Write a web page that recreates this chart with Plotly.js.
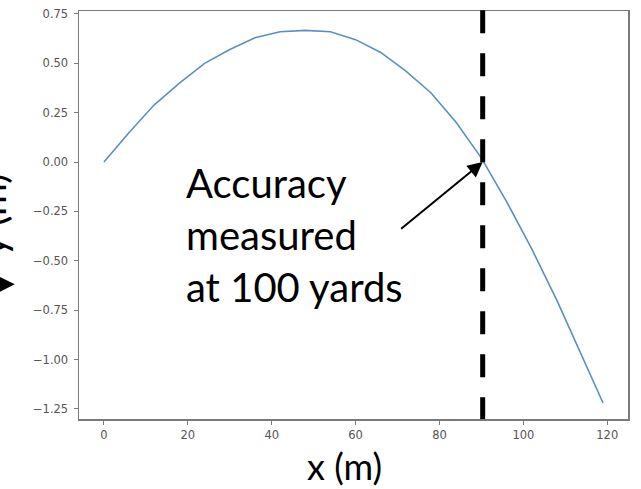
<!DOCTYPE html>
<html>
<head>
<meta charset="utf-8">
<script src="https://cdn.plot.ly/plotly-3.0.1.min.js"></script>
<style>html,body{margin:0;padding:0;background:#fff;}#chart{width:641px;height:489px;}</style>
</head>
<body>
<div id="chart"></div>
<script>
// Trajectory
const xDist = [0, 6, 12, 18, 24, 30, 36, 42, 48, 54, 60, 66, 72, 78, 84, 90, 96, 102, 108, 114, 119];
const yHeight = [0, 0.15, 0.29, 0.40, 0.50, 0.57, 0.63, 0.66, 0.667, 0.66, 0.62, 0.555, 0.46, 0.35, 0.20, 0.02, -0.20, -0.44, -0.70, -0.98, -1.22];
const measureX = [90.3];
const xTickVals = [0, 20, 40, 60, 80, 100, 120];
const yTickVals = [0.75, 0.5, 0.25, 0, -0.25, -0.5, -0.75, -1.0, -1.25];
const yTickText = ['0.75', '0.50', '0.25', '0.00', '\u22120.25', '\u22120.50', '\u22120.75', '\u22121.00', '\u22121.25'];
const noteText = 'Accuracy<br>measured<br>at 100 yards';
const xTitle = 'x (m)';
const yTitle = 'y (m)';

const trace = {
  x: xDist, y: yHeight, type: 'scatter', mode: 'lines',
  line: {color: '#5a90bf', width: 1.6}, hoverinfo: 'skip'
};

const axisCommon = {
  showgrid: false, zeroline: false, showline: true, mirror: true,
  linecolor: '#7a7a7a', linewidth: 1.5,
  ticks: 'outside', ticklen: 4, tickwidth: 1, tickcolor: '#7a7a7a',
  ticklabelstandoff: 3,
  tickfont: {family: 'DejaVu Sans', size: 11.5, color: '#555'}
};

const layout = {
  width: 641, height: 489,
  margin: {l: 79, r: 13, t: 11, b: 70},
  paper_bgcolor: '#fff', plot_bgcolor: '#fff',
  showlegend: false,
  xaxis: Object.assign({}, axisCommon, {
    range: [-5.95, 124.95], tickvals: xTickVals, ticktext: xTickVals.map(String),
    ticklabelstandoff: 1
  }),
  yaxis: Object.assign({}, axisCommon, {
    range: [-1.301, 0.765], tickvals: yTickVals, ticktext: yTickText
  }),
  shapes: [{
    type: 'line', xref: 'x', yref: 'paper', x0: measureX[0], x1: measureX[0], y0: 1.002, y1: 0,
    line: {color: '#000', width: 5, dash: '23px,20px'}, layer: 'above'
  }],
  annotations: [
    {xref: 'paper', yref: 'paper', x: 0.4845, y: -0.1716, xanchor: 'center', yanchor: 'bottom',
     text: xTitle, showarrow: false, borderpad: 0,
     font: {family: 'Lato', size: 36, color: '#000'}},
    {xref: 'paper', yref: 'paper', x: 0.191, y: 0.642, xanchor: 'left', yanchor: 'top',
     text: noteText, showarrow: false, align: 'left',
     font: {family: 'Lato', size: 40, color: '#000'}},
    {xref: 'x', yref: 'y', x: measureX[0], y: 0, ax: -83, ay: 68, text: '',
     showarrow: true, arrowhead: 2, arrowsize: 1.5, arrowwidth: 2, arrowcolor: '#000', standoff: 0},
    {xref: 'paper', yref: 'paper', x: -0.16, y: 0.5, xanchor: 'center', yanchor: 'middle',
     text: yTitle, textangle: -90, showarrow: false,
     font: {family: 'Lato', size: 40, color: '#000'}},
    {xref: 'paper', yref: 'paper', x: -0.117, y: 0.33, ax: -40, ay: 0, text: '',
     showarrow: true, arrowhead: 2, arrowsize: 1.6, arrowwidth: 2, arrowcolor: '#000', standoff: 0}
  ]
};

Plotly.newPlot('chart', [trace], layout, {displayModeBar: false, staticPlot: true});
</script>
</body>
</html>
